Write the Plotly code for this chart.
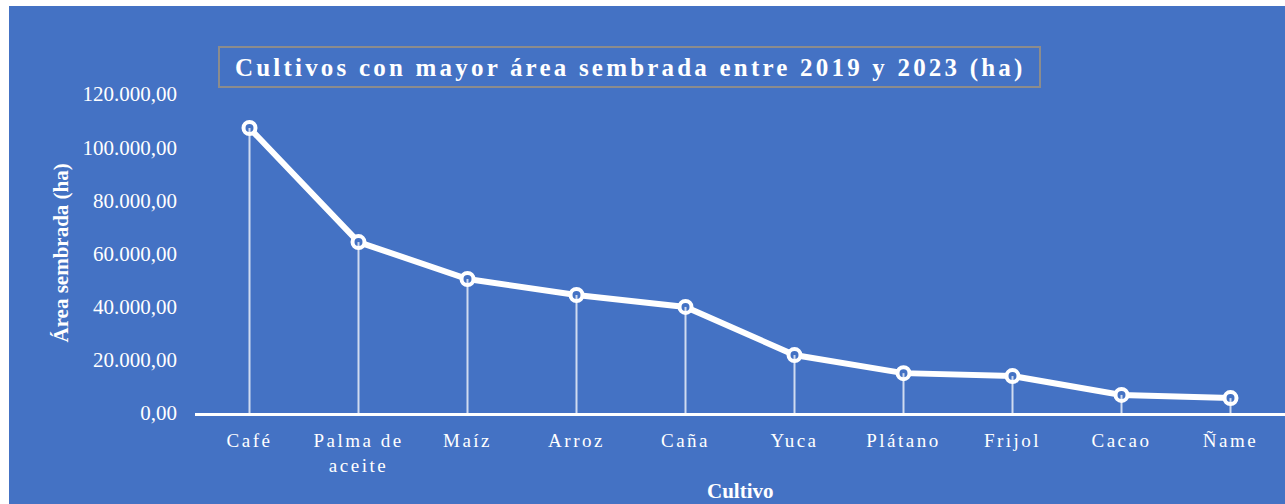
import plotly.graph_objects as go

cultivos = ["Café", "Palma de<br>aceite", "Maíz", "Arroz", "Caña", "Yuca",
            "Plátano", "Frijol", "Cacao", "Ñame"]
area = [107200, 64300, 50400, 44400, 39900, 21800, 15000, 13900, 6800, 5600]

y_ticks = [0, 20000, 40000, 60000, 80000, 100000, 120000]

titulo = "Cultivos con mayor área sembrada entre 2019 y 2023 (ha)"
titulo_y = "Área sembrada (ha)"
titulo_x = "Cultivo"

W, H = 1285, 504
ML, MR, MT, MB = 195, 0, 94, 91
PW, PH = W - ML - MR, H - MT - MB
azul = "#4472C4"
fuente = "Liberation Serif"


def px_x(p):
    return (p - ML) / PW


def px_y(p):
    return (H - MB - p) / PH


fig = go.Figure()

# linea principal
fig.add_trace(go.Scatter(
    x=cultivos, y=area, mode="lines+markers",
    line=dict(color="white", width=6),
    marker=dict(size=12, color=azul, line=dict(color="white", width=4)),
    hoverinfo="skip",
))

# lineas de caida hasta el eje
fig.add_trace(go.Scatter(
    x=cultivos, y=area, mode="markers",
    marker=dict(size=1, color="rgba(0,0,0,0)"),
    error_y=dict(type="data", symmetric=False, array=[0] * len(area),
                 arrayminus=area, color="rgba(255,255,255,0.75)",
                 thickness=2, width=0),
    hoverinfo="skip",
))

fig.update_layout(
    width=W, height=H,
    margin=dict(l=ML, r=MR, t=MT, b=MB),
    paper_bgcolor="white",
    plot_bgcolor=azul,
    showlegend=False,
    separators=",.",
    font=dict(family=fuente, color="white"),
    shapes=[
        dict(type="rect", xref="paper", yref="paper", layer="below",
             x0=px_x(9), x1=px_x(W + 5), y0=px_y(H + 5), y1=px_y(6),
             fillcolor=azul, line=dict(width=0)),
        dict(type="rect", xref="paper", yref="paper",
             x0=px_x(219), x1=px_x(1040), y0=px_y(87), y1=px_y(47),
             line=dict(color="#8c8c8c", width=2)),
    ],
    annotations=[
        dict(text="<b>" + titulo + "</b>", xref="paper", yref="paper",
             x=px_x(630), y=px_y(68), showarrow=False,
             xanchor="center", yanchor="middle",
             font=dict(size=25, color="white", family=fuente)),
        dict(text="<b>" + titulo_y + "</b>", xref="paper", yref="paper",
             x=px_x(60), y=0.5, showarrow=False, textangle=-90,
             xanchor="center", yanchor="middle",
             font=dict(size=21, color="white", family=fuente)),
        dict(text="<b>" + titulo_x + "</b>", xref="paper", yref="paper",
             x=0.5, y=px_y(491), showarrow=False,
             xanchor="center", yanchor="middle",
             font=dict(size=21, color="white", family=fuente)),
    ],
)

fig.update_xaxes(
    type="category", range=[-0.5, len(cultivos) - 0.5],
    showgrid=False, zeroline=False,
    showline=True, linecolor="white", linewidth=3,
    ticks="", ticklabelstandoff=8,
    tickfont=dict(size=19, color="white", family=fuente),
)
fig.update_yaxes(
    range=[0, 120000], tickvals=y_ticks, tickformat=",.2f",
    showgrid=False, zeroline=False, showline=False, ticks="",
    ticklabelstandoff=17,
    tickfont=dict(size=21, color="white", family=fuente),
)

css = ("body{margin:0}"
       " .xtick text{letter-spacing:2.5px}"
       " g.annotation[data-index='0'] text{letter-spacing:3.2px}")
post = ("var s=document.createElement('style');s.textContent=\"" + css +
        "\";document.head.appendChild(s);")

fig.write_html("out.html", post_script=post,
               config={"displayModeBar": False})
